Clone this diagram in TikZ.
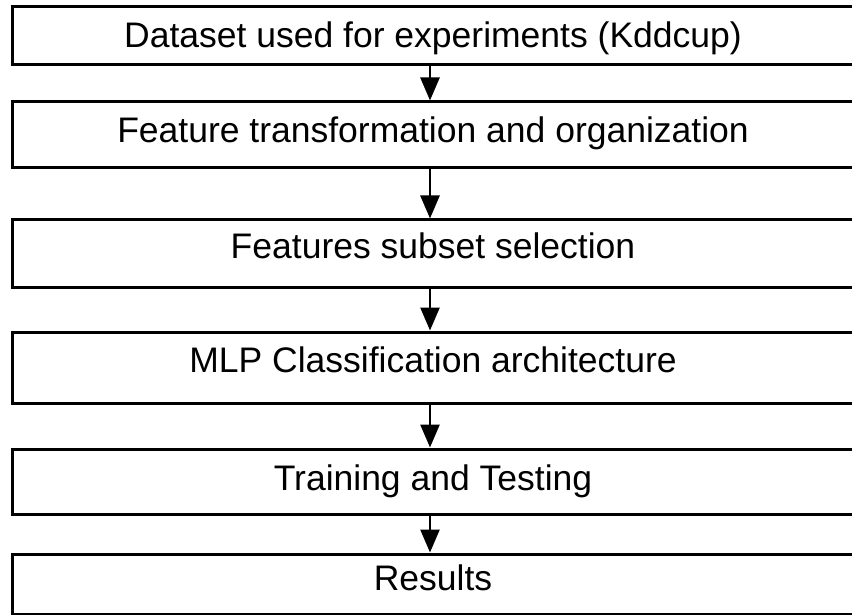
\documentclass[tikz,border=0pt]{standalone}
\usepackage{fontspec}
\setmainfont{Liberation Sans}
\usetikzlibrary{arrows.meta,positioning}
\definecolor{ink}{HTML}{000000}
\tikzset{
  >={Triangle[length=23bp,width=19bp]},
  every picture/.style={line join=miter},
  stagebox/.style={draw=ink, fill=white, line width=3bp, minimum width=840bp,
    inner sep=0pt, text=ink, font=\fontsize{35.5bp}{40bp}\selectfont,
    text height=25.4bp, text depth=#1},
  stagebox/.default=0bp,
  arr/.style={->, draw=ink, line width=2.6bp},
}

\begin{document}
\begin{tikzpicture}[x=1bp,y=-1bp]
  \useasboundingbox (0,0) rectangle (852,615);
  % ---------------- stages ----------------
  \node[stagebox=2bp, minimum height=58bp] (ds) at (433,36) {Dataset used for experiments (Kddcup)};
  \node[stagebox=10bp, minimum height=66bp] (feat) at (433,135) {Feature transformation and organization};
  \node[stagebox=16bp, minimum height=67bp] (sub) at (433,253.5) {Features subset selection};
  \node[stagebox=15bp, minimum height=71bp] (mlp) at (433,367.5) {MLP Classification architecture};
  \node[stagebox=7bp, minimum height=65bp] (train) at (433,481.5) {Training and Testing};
  \node[stagebox=12bp, minimum height=60bp] (res) at (433,584) {Results};
  % ---------------- flow ----------------
  \coordinate (ax) at (430,0);
  \foreach \a/\b in {ds/feat,feat/sub,sub/mlp,mlp/train,train/res}{\draw[arr] (\a.south -| ax) -- (\b.north -| ax);}
\end{tikzpicture}
\end{document}
